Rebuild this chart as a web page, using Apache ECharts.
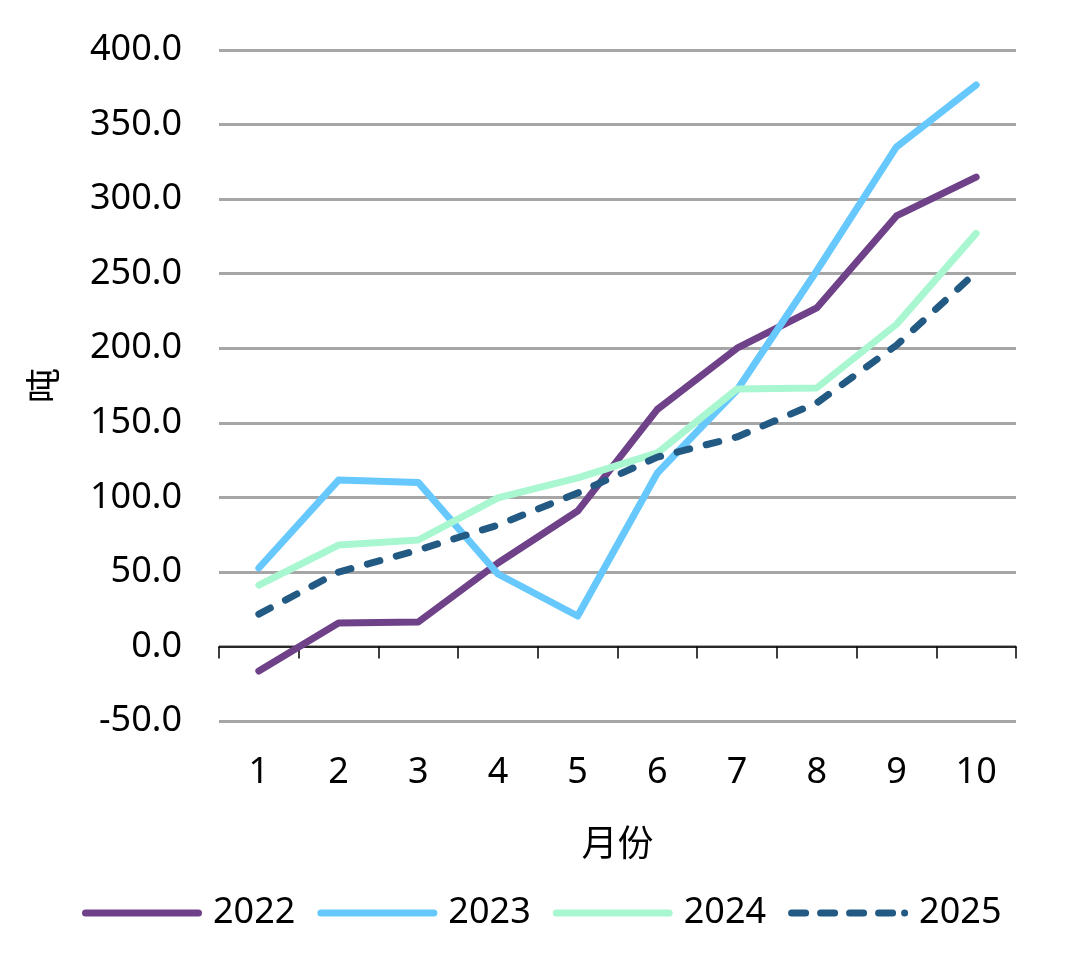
<!DOCTYPE html>
<html>
<head>
<meta charset="utf-8">
<script src="https://cdn.jsdelivr.net/npm/echarts@6/dist/echarts.min.js"></script>
<style>
  html, body { margin: 0; padding: 0; background: #fff; }
  #chart { width: 1065px; height: 980px; }
</style>
</head>
<body>
<div id="chart"></div>
<script>
const months = ['1', '2', '3', '4', '5', '6', '7', '8', '9', '10']
const y2022 = [-16.5, 15.7, 16.4, 56, 90.8, 159, 200, 227, 288.7, 314.8]
const y2023 = [52.6, 111.6, 110, 48.6, 20.4, 116.3, 172, 252, 335, 376.6]
const y2024 = [41.2, 68, 71.4, 99.6, 113, 129.8, 172.7, 173.4, 216, 277]
const y2025 = [21.7, 49.9, 64.7, 81.4, 102.9, 127, 140.5, 163.3, 202, 251]

const font = '"Noto Sans", "Noto Sans CJK SC", sans-serif'

// legend swatches: a rounded bar, and a dashed one for 2025
function pill(x0, x1) {
  return 'M' + (x0 + 3.5) + ',0 H' + (x1 - 3.5) + ' A3.5,3.5 0 0 1 ' + (x1 - 3.5) + ',7 H' + (x0 + 3.5) + ' A3.5,3.5 0 0 1 ' + (x0 + 3.5) + ',0 Z '
}
const solidIcon = 'path://' + pill(0, 120)
const dashIcon = 'path://' + pill(0, 21) + pill(29, 50) + pill(58, 79) + pill(87, 108) + pill(113, 120)

function lineSeries(name, data, color, dashed) {
  return {
    name,
    type: 'line',
    data,
    xAxisIndex: 0,
    symbol: 'none',
    lineStyle: {
      color,
      width: 7,
      cap: 'round',
      join: 'round',
      type: dashed ? [13, 17] : 'solid'
    },
    itemStyle: { color }
  }
}

const chart = echarts.init(document.getElementById('chart'))
chart.setOption({
  animation: false,
  textStyle: { fontFamily: font },
  grid: { left: 219, right: 49, top: 50, bottom: 259 },
  legend: {
    bottom: 44,
    left: 77,
    itemWidth: 120,
    itemHeight: 7,
    itemGap: 22,
    textStyle: { fontSize: 36, color: '#000', fontFamily: font, padding: [0, 0, 0, 6] },
    data: [
      { name: '2022', icon: solidIcon },
      { name: '2023', icon: solidIcon },
      { name: '2024', icon: solidIcon },
      { name: '2025', icon: dashIcon }
    ]
  },
  xAxis: [
    {
      type: 'category',
      data: months,
      position: 'bottom',
      axisLine: { onZero: false, show: false },
      axisTick: { show: false },
      axisLabel: { fontSize: 36, color: '#000', margin: 34 },
      name: '月份',
      nameLocation: 'middle',
      nameGap: 107,
      nameTextStyle: { fontSize: 36, color: '#000', verticalAlign: 'top' }
    },
    {
      type: 'category',
      data: months,
      position: 'bottom',
      axisLine: { onZero: true, lineStyle: { color: '#000', width: 1.5 } },
      axisTick: { show: true, length: 12, lineStyle: { color: '#000', width: 1.5 } },
      axisLabel: { show: false }
    }
  ],
  yAxis: {
    type: 'value',
    min: -50,
    max: 400,
    interval: 50,
    axisLine: { show: false },
    axisTick: { show: false },
    axisLabel: {
      fontSize: 36,
      color: '#000',
      margin: 37,
      formatter: v => v.toFixed(1)
    },
    splitLine: { lineStyle: { color: '#A6A6A6', width: 3 } },
    name: '吨',
    nameLocation: 'middle',
    nameGap: 155,
    nameTextStyle: { fontSize: 35, color: '#000' }
  },
  series: [
    lineSeries('2022', y2022, '#6F4189', false),
    lineSeries('2023', y2023, '#66C8FC', false),
    lineSeries('2024', y2024, '#A9F7D1', false),
    lineSeries('2025', y2025, '#235A84', true)
  ]
})
</script>
</body>
</html>
